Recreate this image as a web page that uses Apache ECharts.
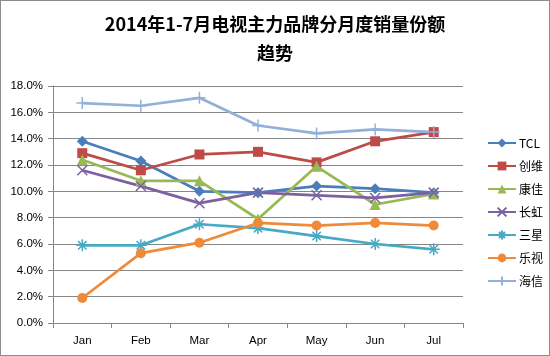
<!DOCTYPE html>
<html><head><meta charset="utf-8">
<script src="https://cdn.jsdelivr.net/npm/echarts@6/dist/echarts.min.js"></script>
<style>html,body{margin:0;padding:0;background:#fff}#c{width:550px;height:356px;box-sizing:border-box;border:1px solid #8c8c8c}</style>
</head><body><div id="c"></div>
<script>
const months = ['Jan','Feb','Mar','Apr','May','Jun','Jul'];
const tcl = [13.8, 12.3, 10.0, 9.9, 10.4, 10.2, 9.9];
const skyworth = [12.9, 11.6, 12.8, 13.0, 12.2, 13.8, 14.5];
const konka = [12.4, 10.8, 10.8, 7.9, 11.9, 9.0, 9.8];
const changhong = [11.6, 10.4, 9.1, 9.9, 9.7, 9.5, 9.9];
const samsung = [5.9, 5.9, 7.5, 7.2, 6.6, 6.0, 5.6];
const letv = [1.9, 5.3, 6.1, 7.6, 7.4, 7.6, 7.4];
const hisense = [16.7, 16.5, 17.1, 15.0, 14.4, 14.7, 14.5];
const yTicks = [0, 2, 4, 6, 8, 10, 12, 14, 16, 18];

const xPath = 'path://M0,0L10,10M10,0L0,10';
const starPath = 'path://M5,0L5,10M0,5L10,5M1.5,1.5L8.5,8.5M8.5,1.5L1.5,8.5';
const plusPath = 'path://M5,0L5,10M0,5L10,5';

const defs = [
  {name:'TCL', data:tcl, color:'#4a7ebb', symbol:'diamond', size:11},
  {name:'创维', data:skyworth, color:'#be4b48', symbol:'rect', size:10},
  {name:'康佳', data:konka, color:'#98b954', symbol:'triangle', size:11},
  {name:'长虹', data:changhong, color:'#7d60a0', symbol:xPath, size:10, stroke:true},
  {name:'三星', data:samsung, color:'#46aac5', symbol:starPath, size:12, stroke:true},
  {name:'乐视', data:letv, color:'#f08a3a', symbol:'circle', size:10},
  {name:'海信', data:hisense, color:'#93b0da', symbol:plusPath, size:12, stroke:true}
];

const chart = echarts.init(document.getElementById('c'));
chart.setOption({
  animation:false,
  title:{
    text:'2014年1-7月电视主力品牌分月度销量份额\n趋势',
    left:'center', top:4,
    textStyle:{fontFamily:'Noto Sans CJK SC', fontSize:18, fontWeight:'bold', color:'#000', lineHeight:29}
  },
  legend:{
    orient:'vertical', left:481, top:131, itemGap:11, itemWidth:28, itemHeight:11,
    textStyle:{fontFamily:'Noto Sans CJK SC', fontSize:12, color:'#000', padding:[0,0,0,-2]},
    data:defs.map(d=>d.name)
  },
  grid:{left:52, right:86, top:85, bottom:32},
  xAxis:{
    type:'category', data:months, boundaryGap:true,
    axisLine:{lineStyle:{color:'#868686'}},
    axisTick:{show:true, length:5, inside:false, lineStyle:{color:'#868686'}},
    axisLabel:{color:'#000', fontSize:11.5, fontFamily:'Liberation Sans', margin:12}
  },
  yAxis:{
    type:'value', min:0, max:18, interval:2,
    axisLine:{show:true, lineStyle:{color:'#868686'}},
    axisTick:{show:true, length:5, lineStyle:{color:'#868686'}},
    splitLine:{lineStyle:{color:'#868686'}},
    axisLabel:{color:'#000', fontSize:11.5, fontFamily:'Liberation Sans', margin:10,
      formatter:v=>v.toFixed(1)+'%'}
  },
  series:defs.map(d=>({
    name:d.name, type:'line', data:d.data, symbol:d.symbol, symbolSize:d.size,
    lineStyle:{color:d.color, width:2.75},
    itemStyle: d.stroke ? {color:d.color, borderColor:d.color, borderWidth:1.5} : {color:d.color, borderWidth:0},
    showAllSymbol:true
  }))
});
</script></body></html>
